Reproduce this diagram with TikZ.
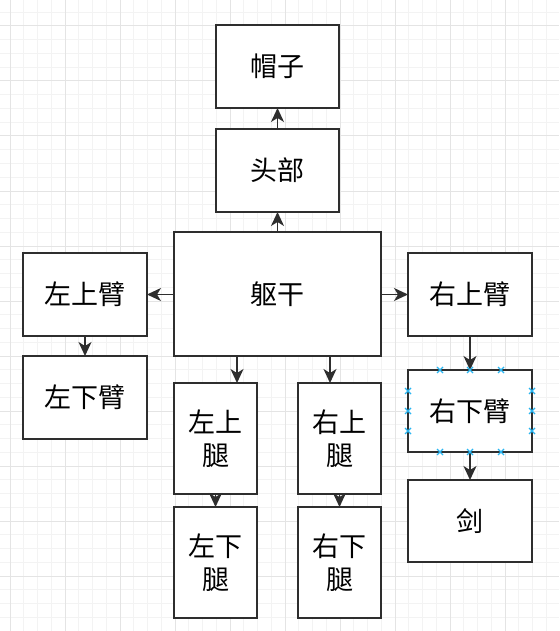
\documentclass[tikz,border=0pt]{standalone}
\usepackage{fontspec}
\newfontfamily\cjk{Noto Sans CJK SC}
\usetikzlibrary{arrows.meta}
\definecolor{minorgrid}{HTML}{F3F3F3}
\definecolor{majorgrid}{HTML}{E4E4E4}
\definecolor{boxline}{HTML}{2E2E2E}
\definecolor{selblue}{HTML}{29B6F2}
\tikzset{
  part/.style={draw=boxline, line width=1.5pt, fill=white, inner sep=0pt, outer sep=0pt,
    font=\cjk\fontsize{27}{33}\selectfont, align=center},
  arr/.style={draw=boxline, line width=1.5pt, -{Stealth[length=14pt,width=13pt,inset=4pt]}},
  selmark/.style={draw=selblue, line width=1.2pt},
}
\begin{document}
\begin{tikzpicture}[x=1pt,y=-1pt]
\useasboundingbox (0,0) rectangle (559,631);
\fill[white] (0,0) rectangle (559,631);
\begin{scope}
\clip (0,0) rectangle (559,631);
\foreach \i in {0,...,40} \draw[minorgrid, line width=1pt] ({10+13.75*\i},0) -- ({10+13.75*\i},631);
\foreach \k in {0,...,45} \draw[minorgrid, line width=1pt] (0,{12.25+13.75*\k}) -- (559,{12.25+13.75*\k});
\foreach \m in {0,...,10} \draw[majorgrid, line width=1pt] ({10+55*\m},0) -- ({10+55*\m},631);
\foreach \m in {0,...,11} \draw[majorgrid, line width=1pt] (0,{26+55*\m}) -- (559,{26+55*\m});
\end{scope}

\node[part, minimum width=123pt, minimum height=83pt] (hat) at (277.5,66.5) {帽子};
\node[part, minimum width=123pt, minimum height=83pt] (head) at (277.5,170.5) {头部};
\node[part, minimum width=207pt, minimum height=124pt] (torso) at (277.5,294) {躯干};
\node[part, minimum width=124pt, minimum height=83pt] (lua) at (85,294.5) {左上臂};
\node[part, minimum width=124pt, minimum height=83pt] (lla) at (85,397.5) {左下臂};
\node[part, minimum width=124pt, minimum height=83pt] (rua) at (470,294.5) {右上臂};
\node[part, minimum width=124pt, minimum height=82pt] (rla) at (470,411) {右下臂};
\node[part, minimum width=124pt, minimum height=82pt] (sword) at (470,521) {剑};
\node[part, minimum width=83pt, minimum height=111pt] (lul) at (215.5,438.5) {左上\\腿};
\node[part, minimum width=83pt, minimum height=111pt] (lll) at (215.5,562.5) {左下\\腿};
\node[part, minimum width=83pt, minimum height=111pt] (rul) at (339.5,438.5) {右上\\腿};
\node[part, minimum width=83pt, minimum height=111pt] (rll) at (339.5,562.5) {右下\\腿};

\draw[arr] (torso.north) -- (head.south);
\draw[arr] (head.north) -- (hat.south);
\draw[arr] (torso.west |- lua.east) -- (lua.east);
\draw[arr] (torso.east |- rua.west) -- (rua.west);
\draw[arr] (lua.south) -- (lla.north);
\draw[arr] (rua.south) -- (rla.north);
\draw[arr] (rla.south) -- (sword.north);
\draw[arr] ([xshift=21.5pt]lul.north |- torso.south) -- ([xshift=21.5pt]lul.north);
\draw[arr] ([xshift=-9.5pt]rul.north |- torso.south) -- ([xshift=-9.5pt]rul.north);
\draw[arr] (lul.south) -- (lll.north);
\draw[arr] (rul.south) -- (rll.north);

% selection handles on the right forearm
\foreach \p in {(440,370),(470,370),(501,370),(440,452),(470,452),(501,452),
                (408,391),(408,411),(408,431),(532,391),(532,411),(532,431)}
  \draw[selmark] \p ++(-3,-3) -- ++(6,6) \p ++(-3,3) -- ++(6,-6);
\end{tikzpicture}
\end{document}
